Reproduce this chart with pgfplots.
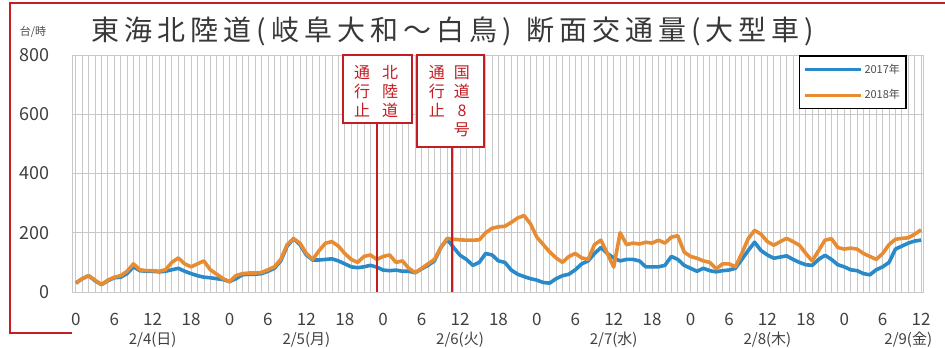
\documentclass[border=0pt]{standalone}
\usepackage{fontspec}
\setmainfont{Noto Sans CJK JP}
\usepackage{pgfplots}
\usepackage{pgfplotstable}
\pgfplotsset{compat=1.18}

\definecolor{s2017}{RGB}{40,138,200}
\definecolor{s2018}{RGB}{232,140,52}
\definecolor{frame}{RGB}{196,30,36}
\definecolor{gridc}{RGB}{200,200,200}

% hourly heavy-vehicle volume, hour 0 = 2/4 0:00
\pgfplotstableread{
h v
0 30
1 45
2 55
3 40
4 25
5 40
6 50
7 55
8 70
9 95
10 75
11 72
12 72
13 70
14 75
15 100
16 115
17 95
18 85
19 95
20 105
21 75
22 60
23 45
24 35
25 55
26 62
27 64
28 64
29 66
30 75
31 85
32 110
33 160
34 180
35 165
36 130
37 110
38 140
39 165
40 170
41 155
42 130
43 110
44 100
45 120
46 125
47 110
48 120
49 125
50 100
51 105
52 80
53 65
54 80
55 95
56 110
57 150
58 181
59 178
60 176
61 175
62 175
63 176
64 200
65 215
66 220
67 222
68 235
69 250
70 258
71 230
72 185
73 160
74 135
75 115
76 100
77 120
78 130
79 115
80 110
81 160
82 175
83 130
84 84
85 200
86 160
87 165
88 162
89 168
90 165
91 175
92 165
93 185
94 190
95 135
96 120
97 114
98 105
99 100
100 78
101 95
102 95
103 85
104 130
105 180
106 208
107 195
108 170
109 158
110 170
111 181
112 170
113 158
114 130
115 105
116 140
117 175
118 180
119 150
120 145
121 148
122 145
123 130
124 120
125 110
126 130
127 160
128 178
129 181
130 183
131 195
132 210
}\yeareighteen

\pgfplotstableread{
h v
0 30
1 45
2 55
3 38
4 25
5 38
6 48
7 50
8 62
9 85
10 72
11 70
12 70
13 68
14 70
15 75
16 80
17 70
18 62
19 55
20 50
21 48
22 45
23 42
24 35
25 45
26 58
27 60
28 60
29 62
30 70
31 80
32 105
33 155
34 180
35 160
36 125
37 108
38 108
39 110
40 112
41 105
42 95
43 85
44 82
45 85
46 90
47 84
48 74
49 72
50 74
51 70
52 70
53 65
54 78
55 90
56 105
57 150
58 178
59 150
60 124
61 110
62 90
63 100
64 130
65 125
66 105
67 100
68 74
69 60
70 52
71 45
72 40
73 32
74 30
75 45
76 55
77 60
78 75
79 95
80 105
81 130
82 150
83 130
84 115
85 105
86 110
87 110
88 105
89 85
90 85
91 85
92 90
93 120
94 110
95 90
96 80
97 70
98 80
99 72
100 68
101 72
102 74
103 80
104 110
105 140
106 168
107 140
108 125
109 114
110 118
111 122
112 110
113 100
114 92
115 90
116 110
117 124
118 110
119 92
120 85
121 75
122 72
123 62
124 58
125 75
126 85
127 100
128 145
129 155
130 165
131 172
132 175
}\yearseventeen

\begin{document}
\begin{tikzpicture}
\path[use as bounding box] (0,0) rectangle (945bp,348bp);

% open red frame
\draw[frame, line width=2bp] (945bp,345bp) -- (10bp,345bp) -- (10bp,15bp) -- (72bp,15bp);

% title and unit
\node[text=black!78, inner sep=0pt] at (453bp,316.5bp)
  {\fontsize{28bp}{28bp}\selectfont\addfontfeatures{LetterSpace=18}東海北陸道(岐阜大和～白鳥)\hspace*{14bp}断面交通量(大型車)};
\node[text=black!70, inner sep=0pt] at (33bp,316bp) {\fontsize{11bp}{11bp}\selectfont 台/時};

\begin{axis}[
  at={(72bp,56bp)}, anchor=south west,
  width=851bp, height=237bp, scale only axis,
  xmin=-0.6, xmax=132.3, ymin=0, ymax=800,
  clip=false,
  xtick={0,6,...,132},
  xticklabels={0,6,12,18,0,6,12,18,0,6,12,18,0,6,12,18,0,6,12,18,0,6,12},
  minor x tick num=5,
  ytick={0,200,...,800},
  major tick length=0pt, minor tick length=0pt,
  grid=both,
  major grid style={gridc, line width=0.8bp},
  minor grid style={gridc, line width=0.8bp},
  axis line style={gridc, line width=1bp},
  /pgf/number format/assume math mode=true,
  xticklabel style={font=\fontsize{17bp}{17bp}\selectfont, text=black!75, anchor=center, yshift=-27bp},
  yticklabel style={font=\fontsize{18bp}{18bp}\selectfont, text=black!75, anchor=east, inner sep=0pt, xshift=-22bp},
  legend style={at={(0.981,1)}, anchor=north east, draw=black, line width=1.8bp,
    fill=white, font=\fontsize{11bp}{11bp}\selectfont, text=black!70,
    inner xsep=4bp, inner ysep=6bp, row sep=11bp},
  legend cell align=left,
  legend image code/.code={\draw[#1, line width=3bp] (0bp,0bp) -- (56bp,0bp);},
]
\addplot[s2017, line width=3.6bp, line join=round] table[x=h, y=v] {\yearseventeen};
\addlegendentry{2017年}
\addplot[s2018, line width=3.6bp, line join=round] table[x=h, y=v] {\yeareighteen};
\addlegendentry{2018年}

% closure markers
\draw[frame, line width=2.4bp] (axis cs:47,570) -- (axis cs:47,0);
\draw[frame, line width=2.4bp] (axis cs:58.75,490) -- (axis cs:58.75,0);
\draw[frame, line width=2.4bp, fill=white] (axis cs:41.7,570) rectangle (axis cs:52.5,800);
\draw[frame, line width=2.4bp, fill=white] (axis cs:53.3,490) rectangle (axis cs:63.75,800);
\begin{scope}[every node/.style={text=frame, inner sep=0pt, align=center,
    font=\fontsize{16bp}{19bp}\selectfont}]
\node at (axis cs:44.7,678) {通\\行\\止};
\node at (axis cs:49.1,678) {北\\陸\\道};
\node[anchor=north] at (axis cs:56.4,765) {通\\行\\止};
\node[anchor=north] at (axis cs:60.3,765) {国\\道\\8\\号};
\end{scope}

% day labels
\begin{scope}[every node/.style={text=black!75, inner sep=0pt,
    font=\fontsize{15bp}{15bp}\selectfont}]
\node at (axis cs:12,0) [yshift=-48bp] {2/4(日)};
\node at (axis cs:36,0) [yshift=-48bp] {2/5(月)};
\node at (axis cs:60,0) [yshift=-48bp] {2/6(火)};
\node at (axis cs:84,0) [yshift=-48bp] {2/7(水)};
\node at (axis cs:108,0) [yshift=-48bp] {2/8(木)};
\node at (axis cs:130,0) [yshift=-48bp] {2/9(金)};
\end{scope}
\end{axis}
\end{tikzpicture}
\end{document}
